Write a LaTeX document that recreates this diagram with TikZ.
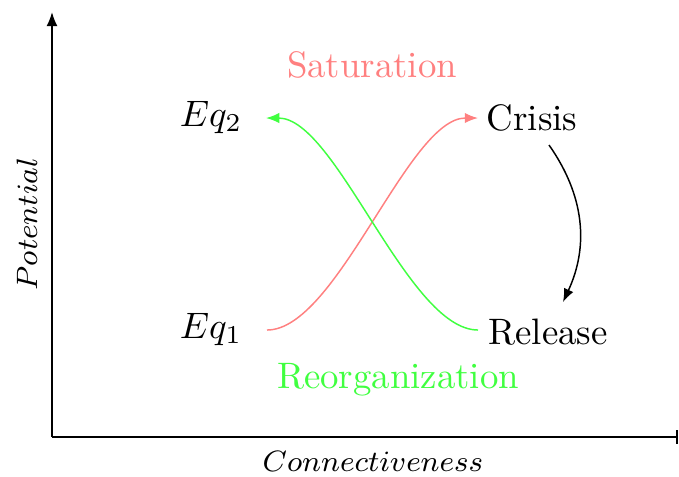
\documentclass[tikz,border=0pt]{standalone}
\usetikzlibrary{arrows.meta}
\begin{document}
\begin{tikzpicture}[x=0.2717pt,y=-0.2717pt,
  axis/.style={line width=0.5pt},
  axlbl/.style={font=\fontsize{8.4}{10}\selectfont},
  flow/.style={line width=0.4pt,-{Latex[length=3.6pt,width=2.8pt]}}]
\useasboundingbox (0,0) rectangle (679,476);
% axes
\coordinate (o) at (52,437);
\coordinate (ytop) at (52,12);
\coordinate (xend) at (678,437);
\draw[axis,-{Latex[length=3.8pt,width=3pt]}] (o) -- (ytop);
\draw[axis,-{Bar[width=3.6pt]}] (o) -- (xend);
\node[rotate=90,axlbl] (pot) at (27,224) {$Potential$};
\node[axlbl] (con) at (373,461) {$Connectiveness$};
% labels
\node[text=red!50] (sat) at (372,65) {Saturation};
\node[text=green!75] (reo) at (398,380) {Reorganization};
\node (eq2) at (211,117) {$Eq_2$};
\node (eq1) at (211,329) {$Eq_1$};
\node (cri) at (532,118) {Crisis};
\node (rel) at (548,332) {Release};
\coordinate (r0) at (267,330);
\coordinate (r1) at (478,118);
\coordinate (g0) at (478,330);
\coordinate (g1) at (266,118);
\draw[flow,red!50] (r0) to[out=0,in=180,looseness=0.6] (r1);
\draw[flow,green!75] (g0) to[out=180,in=0,looseness=0.6] (g1);
\coordinate (c0) at (549,145);
\coordinate (c1) at (563,302);
\draw[flow,black] (c0) to[bend left=30] (c1);
\end{tikzpicture}
\end{document}
